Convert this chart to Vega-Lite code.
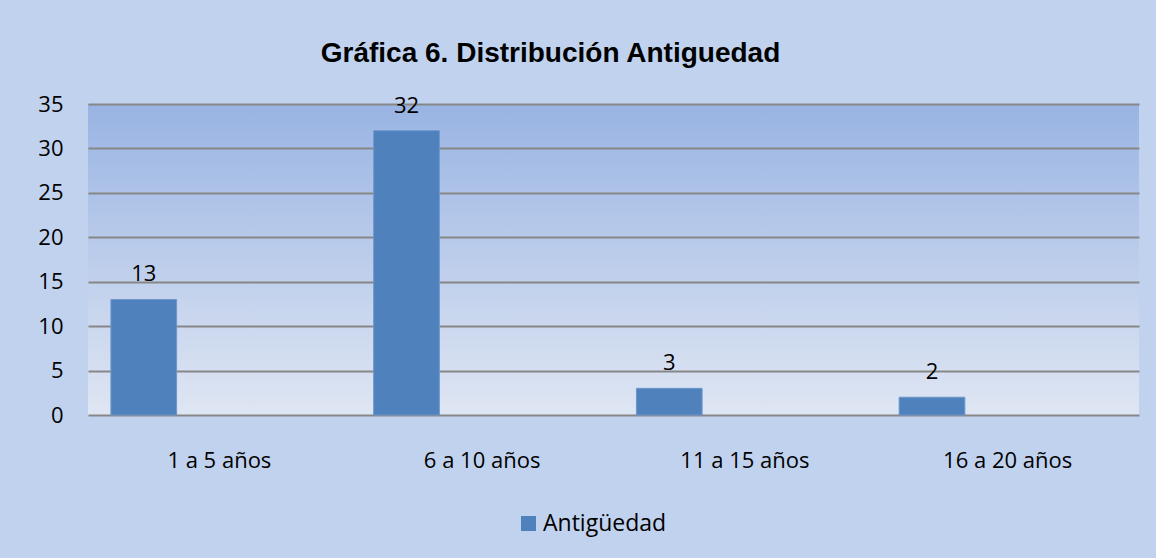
{
  "$schema": "https://vega.github.io/schema/vega-lite/v6.json",
  "autosize": {"type": "none"},
  "width": 1051,
  "height": 311,
  "padding": {"left": 88, "top": 104, "right": 17, "bottom": 143},
  "background": "#c1d2ee",
  "title": {
    "text": "Gráfica 6. Distribución Antiguedad",
    "font": "Liberation Sans",
    "fontSize": 28,
    "fontWeight": "bold",
    "color": "#000000",
    "anchor": "middle",
    "frame": "group",
    "dx": -63,
    "offset": 25
  },
  "data": {
    "values": [
      {"rango": "1 a 5 años", "serie": "Antigüedad", "valor": 13},
      {"rango": "6 a 10 años", "serie": "Antigüedad", "valor": 32},
      {"rango": "11 a 15 años", "serie": "Antigüedad", "valor": 3},
      {"rango": "16 a 20 años", "serie": "Antigüedad", "valor": 2}
    ]
  },
  "encoding": {
    "x": {
      "field": "rango",
      "type": "nominal",
      "sort": null,
      "scale": {"paddingInner": 0, "paddingOuter": 0},
      "axis": {
        "title": null,
        "labelAngle": 0,
        "ticks": false,
        "domain": false,
        "grid": false,
        "labelFont": "Open Sans",
        "labelFontSize": 22,
        "labelColor": "#000000",
        "labelPadding": 35
      }
    },
    "xOffset": {
      "field": "serie",
      "type": "nominal",
      "scale": {"domain": ["Antigüedad", "_"], "paddingInner": 0, "paddingOuter": 1.129, "align": 0.1744}
    },
    "y": {
      "field": "valor",
      "type": "quantitative",
      "scale": {"domain": [0, 35], "nice": false},
      "axis": {
        "title": null,
        "values": [0, 5, 10, 15, 20, 25, 30, 35],
        "ticks": false,
        "domain": false,
        "grid": true,
        "gridColor": "#878787",
        "gridWidth": 2,
        "gridOpacity": 1,
        "labelFont": "Open Sans",
        "labelFontSize": 22,
        "labelColor": "#000000",
        "labelPadding": 25
      }
    }
  },
  "layer": [
    {
      "mark": {"type": "bar", "stroke": "#6e97cb", "strokeWidth": 1},
      "encoding": {
        "color": {
          "field": "serie",
          "type": "nominal",
          "scale": {"domain": ["Antigüedad"], "range": ["#4f81bd"]},
          "legend": {
            "title": null,
            "orient": "none",
            "legendX": 429,
            "legendY": 408,
            "direction": "horizontal",
            "symbolType": "square",
            "symbolSize": 225,
            "symbolStrokeWidth": 0,
            "labelFont": "Open Sans",
            "labelFontSize": 23,
            "labelColor": "#000000",
            "labelOffset": 3,
            "padding": 0
          }
        }
      }
    },
    {
      "mark": {
        "type": "text",
        "font": "Open Sans",
        "fontSize": 22,
        "color": "#000000",
        "baseline": "alphabetic",
        "dy": -18
      },
      "encoding": {
        "text": {"field": "valor", "type": "quantitative"}
      }
    }
  ],
  "config": {
    "view": {
      "stroke": null,
      "fill": {
        "gradient": "linear",
        "x1": 0, "y1": 0, "x2": 0, "y2": 1,
        "stops": [
          {"offset": 0, "color": "#99b4e3"},
          {"offset": 1, "color": "#dfe6f3"}
        ]
      }
    }
  }
}
